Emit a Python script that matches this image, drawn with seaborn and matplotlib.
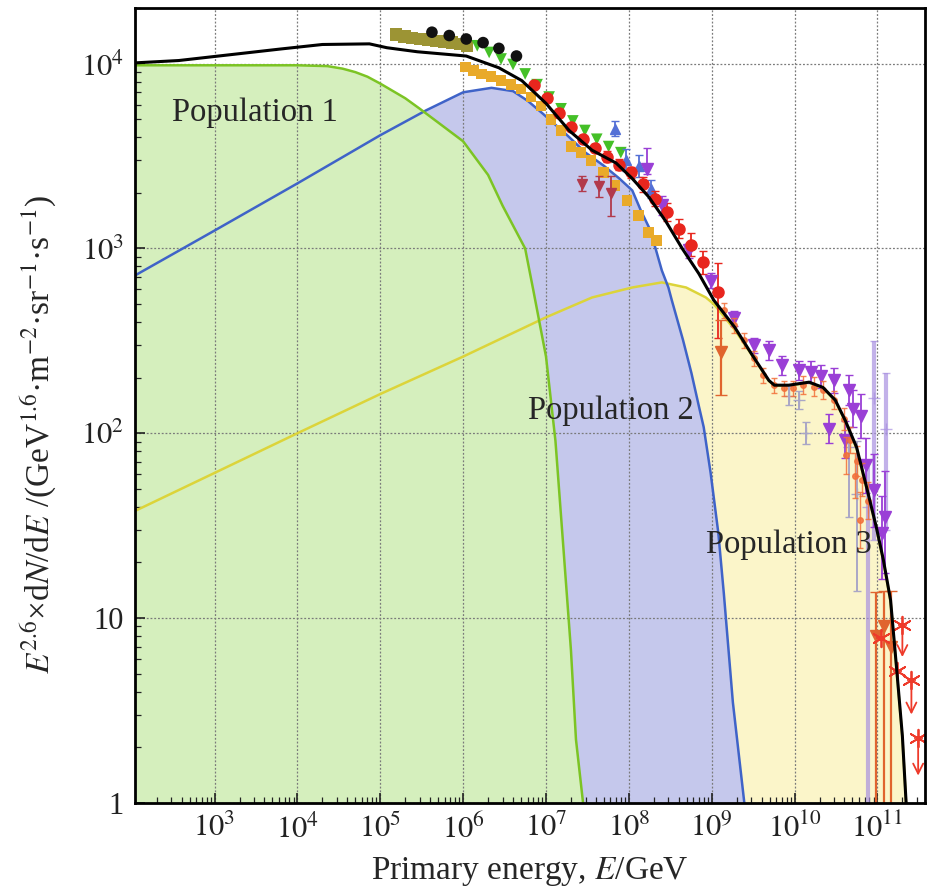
import numpy as np
import matplotlib
matplotlib.use("Agg")
import matplotlib.pyplot as plt
import seaborn as sns
from matplotlib.ticker import FixedLocator, FuncFormatter, LogLocator, NullFormatter

# ---- model components (E in GeV, y = E^2.6 dN/dE) ----
pop1_E = [1.1e2, 1e3, 1e4, 2.3e4, 3.5e4, 5e4, 7e4, 1e5, 2e5, 3e5, 5e5, 1e6, 2e6, 3e6, 5.6e6,
          7e6, 1e7, 1.3e7, 1.6e7, 2e7, 2.3e7, 2.8e7]
pop1_F = [9.8e3, 9.8e3, 9.8e3, 9.7e3, 9.4e3, 9.0e3, 8.5e3, 7.8e3, 6.5e3, 5.7e3, 4.8e3, 3.8e3,
          2.5e3, 1.7e3, 1.0e3, 600, 260, 91, 26, 6.7, 2.2, 1.0]

pop2_E = [1.1e2, 1e3, 1e4, 1e5, 3.6e5, 1e6, 2.2e6, 4e6, 6e6, 9e6, 1.7e7, 3e7, 5e7, 7.6e7,
          1.1e8, 1.4e8, 1.75e8, 2.1e8, 2.5e8, 3e8, 3.3e8, 4.5e8, 5.7e8, 7e8, 8e8, 9.7e8,
          1.2e9, 1.4e9, 1.8e9, 2.5e9]
pop2_F = [715, 1.25e3, 2.25e3, 4.1e3, 5.6e3, 7.0e3, 7.4e3, 7.1e3, 6.3e3, 5.4e3, 4.2e3, 3.3e3,
          2.8e3, 2.4e3, 2.06e3, 1.6e3, 1.3e3, 1.0e3, 760, 615, 524, 320, 211, 140, 108, 61,
          29, 13.6, 3.5, 0.96]

pop3_E = [1.1e2, 1e3, 1e4, 1e5, 1e6, 1e7, 3.6e7, 1.1e8, 2.5e8, 4.9e8, 8.5e8, 1.06e9, 1.9e9,
          3e9, 4.9e9, 5.7e9, 8.5e9, 1.5e10, 2.2e10, 3.1e10, 4.1e10, 5.6e10, 7.4e10, 9.7e10,
          1.18e11, 1.44e11, 1.7e11, 2.0e11, 2.23e11]
pop3_F = [38, 61, 100, 163, 260, 424, 543, 615, 655, 615, 543, 500, 363, 268, 192, 181, 181,
          188, 176, 150, 116, 83, 50, 30.5, 20.3, 12.3, 5.3, 2.25, 0.96]

total_E = [1.1e2, 3.7e2, 1.9e3, 6.2e3, 2e4, 7.4e4, 1.2e5, 2.8e5, 1.09e6, 2.7e6, 5.1e6, 1e7,
           1.9e7, 3.6e7, 7e7, 1.09e8, 1.74e8, 2.8e8, 4.4e8, 7e8, 1.06e9, 1.9e9, 3e9, 4.9e9,
           5.7e9, 8.5e9, 1.5e10, 2.2e10, 3.1e10, 4.1e10, 5.6e10, 7.4e10, 9.7e10, 1.18e11,
           1.44e11, 1.7e11, 2.0e11, 2.23e11]
total_F = [1.01e4, 1.04e4, 1.13e4, 1.2e4, 1.27e4, 1.28e4, 1.22e4, 1.16e4, 1.1e4, 9.5e3, 8.1e3,
           6.1e3, 4.35e3, 3.4e3, 2.9e3, 2.4e3, 1.9e3, 1.4e3, 1.0e3, 730, 525, 374, 270, 193,
           182, 182, 189, 177, 151, 117, 84, 51, 31, 20.6, 12.5, 5.4, 2.3, 0.96]

# ---- measurements ----
olive_E = [1.56e5, 1.95e5, 2.43e5, 3.03e5, 3.78e5, 4.73e5, 5.9e5, 7.36e5, 9.2e5, 1.12e6]
olive_F = [1.44e4, 1.40e4, 1.38e4, 1.36e4, 1.35e4, 1.33e4, 1.32e4, 1.30e4, 1.28e4, 1.25e4]

dots_E = [4.2e5, 6.8e5, 1.09e6, 1.74e6, 2.7e6, 4.4e6]
dots_F = [1.48e4, 1.42e4, 1.36e4, 1.3e4, 1.21e4, 1.1e4]

green_E = [1.48e6, 2.06e6, 2.87e6, 4.0e6, 5.6e6, 7.8e6, 1.09e7, 1.52e7, 2.11e7, 2.95e7,
           4.1e7, 5.7e7, 8.0e7]
green_F = [1.25e4, 1.15e4, 1.06e4, 9.9e3, 8.8e3, 7.7e3, 6.6e3, 5.7e3, 4.9e3, 4.35e3, 3.9e3,
           3.56e3, 3.3e3]

gold_E = [1.06e6, 1.32e6, 1.65e6, 2.17e6, 2.87e6, 3.78e6, 5.0e6, 6.6e6, 8.7e6, 1.15e7,
          1.52e7, 2.0e7, 2.64e7, 3.5e7, 4.9e7, 6.8e7, 9.5e7, 1.32e8, 1.74e8, 2.17e8]
gold_F = [9.6e3, 9.2e3, 8.8e3, 8.5e3, 8.1e3, 7.7e3, 7.3e3, 6.6e3, 5.9e3, 5.0e3, 4.35e3,
          3.56e3, 3.3e3, 3.0e3, 2.58e3, 2.19e3, 1.82e3, 1.51e3, 1.22e3, 1.1e3]

red_E = [7.2e6, 1.03e7, 1.44e7, 2.0e7, 2.8e7, 3.9e7, 5.4e7, 7.6e7, 1.06e8, 1.48e8, 2.06e8,
         2.87e8, 4.0e8, 5.6e8, 7.8e8, 1.18e9]
red_F = [7.7e3, 6.5e3, 5.4e3, 4.56e3, 3.9e3, 3.5e3, 3.14e3, 2.84e3, 2.58e3, 2.22e3, 1.86e3,
         1.57e3, 1.28e3, 1.05e3, 840, 580]
red_lo = [0.02, 0.02, 0.02, 0.02, 0.02, 0.02, 0.03, 0.03, 0.03, 0.04, 0.04, 0.05, 0.05, 0.06, 0.06, 0.25]
red_hi = [0.02, 0.02, 0.02, 0.02, 0.02, 0.02, 0.03, 0.03, 0.03, 0.04, 0.04, 0.05, 0.05, 0.06, 0.06, 0.16]

maroon_E = [2.72e7, 4.35e7, 6.07e7]
maroon_F = [2.24e3, 2.19e3, 2.0e3]
maroon_lo = [0.04, 0.06, 0.125]
maroon_hi = [0.04, 0.05, 0.09]

blue_E = [6.8e7, 9.2e7, 1.32e8, 1.84e8]
blue_F = [4.45e3, 3.0e3, 2.8e3, 2.1e3]
blue_err = [0.04, 0.06, 0.06, 0.05]

purple_E = [1.65e8, 2.5e8, 5.3e8, 9.7e8, 1.84e9, 3.2e9, 4.9e9, 7e9, 1.12e10, 1.6e10, 2.1e10,
            2.95e10, 4.5e10, 5.1e10, 6.4e10, 2.57e10, 4.1e10, 7.2e10, 9.2e10, 1.25e11, 1.12e11]
purple_F = [2.7e3, 1.71e3, 975, 670, 419, 299, 281, 233, 219, 214, 203, 193, 171, 136, 124,
            106, 92, 67, 49, 35, 29]
purple_lo = [0.03, 0.05, 0.04, 0.04, 0.04, 0.04, 0.05, 0.05, 0.05, 0.06, 0.06, 0.07, 0.08, 0.1,
             0.12, 0.08, 0.1, 0.15, 0.2, 0.3, 0.25]
purple_hi = [0.11, 0.05, 0.04, 0.04, 0.04, 0.04, 0.05, 0.05, 0.05, 0.06, 0.06, 0.07, 0.08, 0.1,
             0.12, 0.08, 0.1, 0.15, 0.2, 0.25, 0.2]

orange_E = [1.4e9, 1.84e9, 2.43e9, 3.2e9, 4.2e9, 5.6e9, 7.4e9, 9.7e9, 1.28e10, 1.7e10, 2.23e10,
            2.95e10, 3.9e10, 4.7e10, 5.6e10, 6.6e10, 7.8e10, 4.2e10, 5.3e10, 6.2e10]
orange_F = [462, 384, 318, 254, 206, 182, 175, 175, 182, 179, 171, 151, 120, 92, 71, 56, 43,
            76, 59, 34]
orange_err = [0.04, 0.04, 0.04, 0.04, 0.04, 0.04, 0.04, 0.04, 0.05, 0.05, 0.05, 0.05, 0.06,
              0.07, 0.08, 0.09, 0.1, 0.1, 0.12, 0.15]

rust_E = [1.28e9, 9.5e10, 1.2e11, 1.45e11]
rust_F = [274, 8, 9, 7]
rust_lo = [0.233, 1.5, 1.5, 1.5]
rust_hi = [0.173, 0.24, 0.19, 0.3]

grey_E = [8.5e9, 1.12e10, 1.36e10, 4.5e10, 5.6e10]
grey_F = [160, 151, 100, 84, 47]
grey_lo = [0.05, 0.05, 0.06, 0.38, 0.525]
grey_hi = [0.05, 0.05, 0.06, 0.11, 0.286]

violet_E = [7.6e10, 9e10, 1.28e11]
violet_F = [40, 155, 106]
violet_lo = [1.7, 0.77, 0.55]
violet_hi = [0.25, 0.31, 0.3]

limit_E = [1.09e11, 1.74e11, 2.0e11, 2.57e11, 3.1e11]
limit_F = [7.8, 5.2, 9.2, 4.6, 2.25]
limit_drop = [0.0, 0.0, 0.19, 0.2, 0.22]


def dex_err(F, lo, hi):
    F = np.asarray(F, float)
    return [F - F / 10 ** np.asarray(lo), F * 10 ** np.asarray(hi) - F]


sns.set_theme(style="ticks")
plt.rcParams["font.family"] = ["Liberation Serif", "DejaVu Serif"]
plt.rcParams["mathtext.fontset"] = "stix"

fig = plt.figure(figsize=(9.32, 8.94), dpi=100)
ax = fig.add_axes([0.145, 0.102, 0.848, 0.889])
ax.set_xscale("log")
ax.set_yscale("log")

# filled populations: yellow at the back, green in front
ax.fill_between(pop3_E, pop3_F, 1e-3, color="#fbf5c9", lw=0, zorder=1)
ax.fill_between(pop2_E, pop2_F, 1e-3, color="#c5c8ec", lw=0, zorder=1.1)
ax.fill_between(pop1_E, pop1_F, 1e-3, color="#d5efbd", lw=0, zorder=1.2)

sns.lineplot(x=pop3_E, y=pop3_F, ax=ax, color="#dcd43a", lw=1.8, sort=False, estimator=None, zorder=3)
sns.lineplot(x=pop2_E, y=pop2_F, ax=ax, color="#3f63c8", lw=1.8, sort=False, estimator=None, zorder=3)
sns.lineplot(x=pop1_E, y=pop1_F, ax=ax, color="#7cc424", lw=1.8, sort=False, estimator=None, zorder=3)

# measurements
sns.scatterplot(x=olive_E, y=olive_F, ax=ax, color="#9c9434", marker="s", s=80, edgecolor="none", zorder=4)
sns.scatterplot(x=dots_E, y=dots_F, ax=ax, color="#111111", marker="o", s=70, edgecolor="none", zorder=4.1)
sns.scatterplot(x=gold_E, y=gold_F, ax=ax, color="#e9aa2a", marker="s", s=60, edgecolor="none", zorder=4)
sns.scatterplot(x=green_E, y=green_F, ax=ax, color="#44c027", marker="v", s=70, edgecolor="none", zorder=4)

ax.errorbar(maroon_E, maroon_F, yerr=dex_err(maroon_F, maroon_lo, maroon_hi), fmt="v", ms=7,
            color="#b23a4c", capsize=3, lw=1.3, zorder=4.2)
ax.errorbar(blue_E, blue_F, yerr=dex_err(blue_F, blue_err, blue_err), fmt="^", ms=7,
            color="#5470d6", capsize=3, lw=1.3, zorder=4.2)
ax.errorbar(red_E, red_F, yerr=dex_err(red_F, red_lo, red_hi), fmt="o", ms=8,
            color="#e8261e", capsize=3, lw=1.3, zorder=4.3)
ax.errorbar(grey_E, grey_F, yerr=dex_err(grey_F, grey_lo, grey_hi), fmt="+", ms=9,
            color="#a9a6c6", capsize=3, lw=1.4, zorder=4.1)
ax.errorbar(violet_E, violet_F, yerr=dex_err(violet_F, violet_lo, violet_hi), fmt="+", ms=9,
            color="#a890e0", capsize=3, lw=3, alpha=0.7, zorder=4.1)
ax.errorbar(purple_E, purple_F, yerr=dex_err(purple_F, purple_lo, purple_hi), fmt="v", ms=8,
            color="#9a3fd6", capsize=3, lw=1.3, zorder=4.2)
ax.errorbar(orange_E, orange_F, yerr=dex_err(orange_F, orange_err, orange_err), fmt="o", ms=4,
            color="#f2703a", capsize=2, lw=1.0, alpha=0.85, zorder=4.3)
ax.errorbar(rust_E, rust_F, yerr=dex_err(rust_F, rust_lo, rust_hi), fmt="v", ms=8,
            color="#e0642e", capsize=4, lw=1.6, zorder=4.3)

# upper limits (asterisks with downward arrows)
ax.errorbar(limit_E, limit_F, xerr=[np.array(limit_E) * 0.12, np.array(limit_E) * 0.14],
            fmt="none", ecolor="#ee3a2a", lw=1.2, zorder=4.4)
sns.scatterplot(x=limit_E, y=limit_F, ax=ax, color="#ee3a2a", marker=(6, 2, 0), s=160,
                linewidth=1.3, zorder=4.5)
for e, f, d in zip(limit_E, limit_F, limit_drop):
    if d > 0:
        ax.annotate("", xy=(e, f / 10 ** d), xytext=(e, f),
                    arrowprops=dict(arrowstyle="->", color="#ee3a2a", lw=1.3,
                                    mutation_scale=18), zorder=4.5)

sns.lineplot(x=total_E, y=total_F, ax=ax, color="black", lw=2.2, sort=False, estimator=None, zorder=6)

# labels inside the plot
ax.text(3.1e3, 5.4e3, "Population 1", fontsize=23.5, ha="center", va="center", zorder=7)
ax.text(6.1e7, 133, "Population 2", fontsize=23.5, ha="center", va="center", zorder=7)
ax.text(8.5e9, 24.8, "Population 3", fontsize=23.5, ha="center", va="center", zorder=7)

ax.set_xlim(1.1e2, 3.8e11)
ax.set_ylim(1, 2e4)

ax.xaxis.set_major_locator(FixedLocator([10.0 ** k for k in range(3, 12)]))
ax.xaxis.set_major_formatter(FuncFormatter(lambda v, p: r"$10^{%d}$" % round(np.log10(v))))
ax.xaxis.set_minor_locator(LogLocator(base=10, subs=np.arange(2, 10), numticks=30))
ax.xaxis.set_minor_formatter(NullFormatter())

ylabels = {0: "1", 1: "10"}
ax.yaxis.set_major_locator(FixedLocator([1, 10, 1e2, 1e3, 1e4]))
ax.yaxis.set_major_formatter(FuncFormatter(
    lambda v, p: ylabels.get(round(np.log10(v)), r"$10^{%d}$" % round(np.log10(v)))))
ax.yaxis.set_minor_locator(LogLocator(base=10, subs=np.arange(2, 10), numticks=30))
ax.yaxis.set_minor_formatter(NullFormatter())

ax.tick_params(which="both", direction="in", colors="#222222", labelsize=22)
ax.tick_params(which="major", length=7, width=1.2, pad=8)
ax.tick_params(which="minor", length=4, width=0.9)

ax.grid(True, which="major", color="#7a7a7a", lw=0.9, ls=(0, (1.5, 1.5)), zorder=2)
ax.set_axisbelow(False)
for sp in ax.spines.values():
    sp.set_color("black")
    sp.set_linewidth(2)
    sp.set_zorder(8)

ax.set_xlabel(r"Primary energy, $E$/GeV", fontsize=24)
ax.set_ylabel("$E^{2.6}$×d$N$/d$E$ /(GeV$^{1.6}$·m$^{-2}$·sr$^{-1}$·s$^{-1}$)", fontsize=24)
ax.xaxis.set_label_coords(0.5, -0.066)
ax.yaxis.set_label_coords(-0.095, 0.463)

fig.savefig("out.png", dpi=100)
